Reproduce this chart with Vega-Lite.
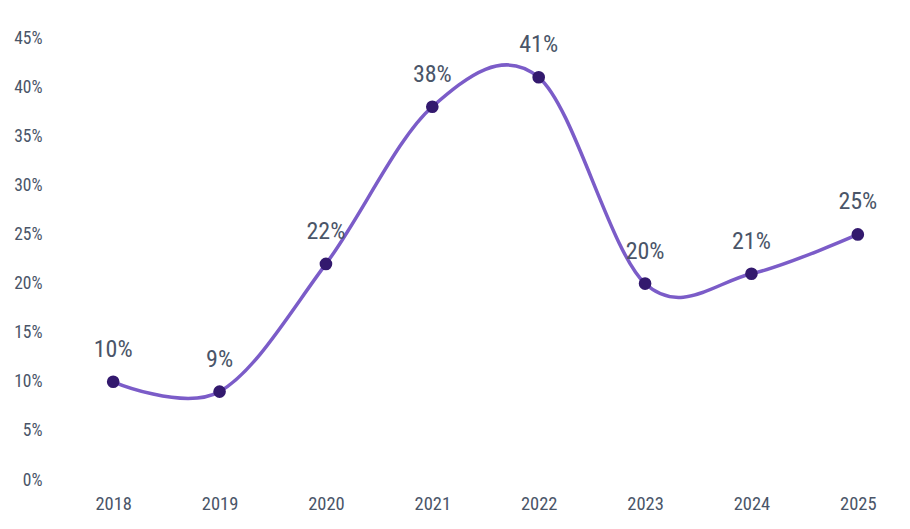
{
  "$schema": "https://vega.github.io/schema/vega-lite/v6.json",
  "autosize": "none",
  "padding": {"left": 60, "top": 38, "right": 0, "bottom": 49},
  "width": 851,
  "height": 442,
  "background": "white",
  "config": {"view": {"stroke": null}, "font": "Roboto Condensed, Roboto"},
  "data": {"values": [
    {"year": "2018", "value": 10},
    {"year": "2019", "value": 9},
    {"year": "2020", "value": 22},
    {"year": "2021", "value": 38},
    {"year": "2022", "value": 41},
    {"year": "2023", "value": 20},
    {"year": "2024", "value": 21},
    {"year": "2025", "value": 25}
  ]},
  "encoding": {
    "x": {"field": "year", "type": "ordinal", "scale": {"type": "point", "padding": 0.5},
      "axis": {"title": null, "labelAngle": 0, "domain": false, "ticks": false, "labelPadding": 14, "labelFontSize": 18.5, "labelColor": "#4a5568", "labelFont": "Roboto Condensed, Roboto"}},
    "y": {"field": "value", "type": "quantitative", "scale": {"domain": [0, 45]},
      "axis": {"title": null, "values": [0,5,10,15,20,25,30,35,40,45], "labelExpr": "datum.value + '%'", "domain": false, "ticks": false, "grid": false, "labelPadding": 18, "labelFontSize": 17.5, "labelColor": "#4a5568", "labelFont": "Roboto Condensed, Roboto"}}
  },
  "layer": [
    {"mark": {"type": "line", "interpolate": "cardinal", "color": "#7b5cc8", "strokeWidth": 3.5}},
    {"mark": {"type": "point", "filled": true, "opacity": 1, "size": 160, "color": "#33196e"}},
    {"mark": {"type": "text", "dy": -32, "fontSize": 24, "color": "#4a5568", "font": "Roboto Condensed, Roboto", "text": {"expr": "datum.value + '%'"}}}
  ]
}
